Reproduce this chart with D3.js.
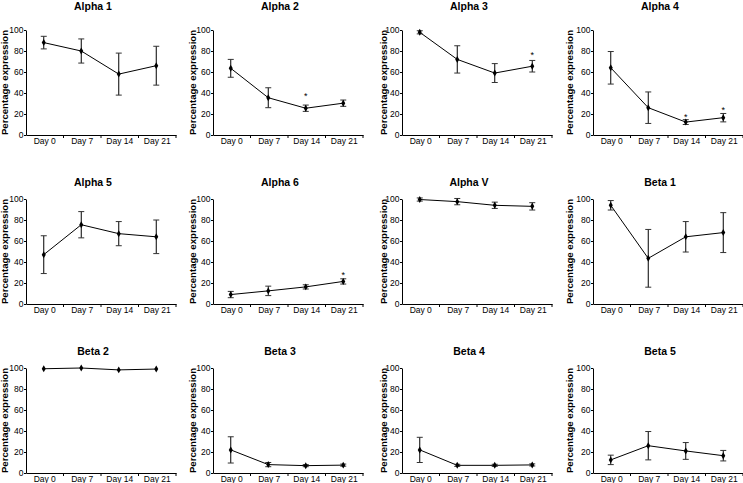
<!DOCTYPE html>
<html>
<head>
<meta charset="utf-8">
<script src="https://cdn.jsdelivr.net/npm/d3@7"></script>
<style>
  html, body { margin: 0; padding: 0; background: #fff; }
  svg { display: block; font-family: "Liberation Sans", Arial, sans-serif; }
</style>
</head>
<body>
<svg id="chart" width="743" height="483"></svg>
<script>
// ---------------- data ----------------
const days = ["Day 0", "Day 7", "Day 14", "Day 21"];
const titles = ["Alpha 1", "Alpha 2", "Alpha 3", "Alpha 4",
                "Alpha 5", "Alpha 6", "Alpha V", "Beta 1",
                "Beta 2", "Beta 3", "Beta 4", "Beta 5"];
const yTicks = [0, 20, 40, 60, 80, 100];
const yLabel = "Percentage expression";

const means = [
  [88, 80, 58, 66],      // Alpha 1
  [63.5, 35.5, 25.5, 30.3], // Alpha 2
  [97.8, 72, 59, 65.5],  // Alpha 3
  [64, 26, 12.3, 16.5],  // Alpha 4
  [47, 75.5, 67, 64],    // Alpha 5
  [9, 12.5, 16.3, 21.5], // Alpha 6
  [99.5, 97.5, 94, 93],  // Alpha V
  [94, 43.5, 64, 68],    // Beta 1
  [99.3, 100, 98.2, 99], // Beta 2
  [22, 8, 7, 7.5],       // Beta 3
  [22, 7.3, 7.3, 7.7],   // Beta 4
  [12.5, 26, 21, 16.5]   // Beta 5
];
const errors = [
  [6, 11.5, 20, 18.5],
  [8.5, 9.5, 3, 3],
  [1.5, 13, 9, 5.5],
  [15.5, 15, 2.3, 4],
  [18, 12.5, 11.5, 16],
  [3, 4.5, 2, 2.5],
  [1.5, 3, 3, 3.5],
  [4.5, 27.5, 14.5, 19],
  [0, 0, 0, 0],
  [12.5, 2, 1, 1],
  [12, 1, 1, 1],
  [4.5, 13.5, 8, 5]
];
// y value at which a significance asterisk is drawn (null = none)
const stars = [
  [null, null, null, null],
  [null, null, 39, null],
  [null, null, null, 78],
  [null, null, 19, 26],
  [null, null, null, null],
  [null, null, null, 30],
  [null, null, null, null],
  [null, null, null, null],
  [null, null, null, null],
  [null, null, null, null],
  [null, null, null, null],
  [null, null, null, null]
];

// ---------------- layout ----------------
const colLeft = [26, 213, 402, 593];
const rowTop = [30, 199, 368];
const titleY = [10, 186, 355];
const yLabelBase = [8.2, 196, 386.5, 573];
const plotW = 150, plotH = 105;
const tickFont = "8.5px";

const svg = d3.select("#chart");

titles.forEach((title, i) => {
  const c = i % 4, r = Math.floor(i / 4);
  const left = colLeft[c], top = rowTop[r];
  const x = d3.scaleBand().domain(days).range([left, left + plotW]);
  const y = d3.scaleLinear().domain([0, 100]).range([top + plotH, top]);
  const g = svg.append("g");

  // title
  g.append("text")
    .attr("x", left + plotW / 2 - 8)
    .attr("y", titleY[r])
    .attr("text-anchor", "middle")
    .attr("font-size", "10.5px")
    .attr("font-weight", "bold")
    .text(title);

  // y label
  g.append("text")
    .attr("transform", `translate(${yLabelBase[c]},${top + plotH / 2}) rotate(-90)`)
    .attr("text-anchor", "middle")
    .attr("font-size", "9.6px")
    .attr("font-weight", "bold")
    .text(yLabel);

  // y axis
  const ya = g.append("g")
    .attr("transform", `translate(${left},0)`)
    .call(d3.axisLeft(y).tickValues(yTicks).tickSize(2).tickSizeOuter(0).tickPadding(0.5));
  ya.selectAll("text").attr("font-size", tickFont).attr("fill", "#000").attr("font-family", "Liberation Sans, Arial, sans-serif");
  ya.selectAll("line, path").attr("stroke", "#000");

  // x axis
  const xa = g.append("g")
    .attr("transform", `translate(0,${top + plotH})`)
    .call(d3.axisBottom(x).tickSize(0).tickSizeOuter(0).tickPadding(3));
  xa.selectAll("text").attr("font-size", tickFont).attr("fill", "#000").attr("font-family", "Liberation Sans, Arial, sans-serif");
  xa.selectAll("path").attr("stroke", "#000");
  // boundary ticks
  xa.selectAll(".btick").data(days).enter().append("line")
    .attr("class", "btick")
    .attr("x1", d => x(d) + x.bandwidth())
    .attr("x2", d => x(d) + x.bandwidth())
    .attr("y1", 0).attr("y2", 3)
    .attr("stroke", "#000");

  const pts = days.map((d, j) => ({ d, m: means[i][j], e: errors[i][j], s: stars[i][j] }));
  const cx = d => x(d) + x.bandwidth() / 2 - 1;

  // connecting line
  g.append("path")
    .datum(pts)
    .attr("fill", "none")
    .attr("stroke", "#000")
    .attr("stroke-width", 1)
    .attr("d", d3.line().x(p => cx(p.d)).y(p => y(p.m)));

  // error bars
  const eb = g.selectAll(".eb").data(pts.filter(p => p.e > 0)).enter().append("g");
  eb.append("line")
    .attr("x1", p => cx(p.d)).attr("x2", p => cx(p.d))
    .attr("y1", p => y(p.m - p.e)).attr("y2", p => y(p.m + p.e))
    .attr("stroke", "#000").attr("stroke-width", 1);
  [1, -1].forEach(sgn => {
    eb.append("line")
      .attr("x1", p => cx(p.d) - 3).attr("x2", p => cx(p.d) + 3)
      .attr("y1", p => y(p.m + sgn * p.e)).attr("y2", p => y(p.m + sgn * p.e))
      .attr("stroke", "#333").attr("stroke-width", 1);
  });

  // markers
  g.selectAll(".mk").data(pts).enter().append("path")
    .attr("transform", p => `translate(${cx(p.d)},${y(p.m)})`)
    .attr("d", d3.symbol(d3.symbolDiamond, 14))
    .attr("fill", "#000");

  // stars
  g.selectAll(".st").data(pts.filter(p => p.s !== null)).enter().append("text")
    .attr("x", p => cx(p.d))
    .attr("y", p => y(p.s) + 5)
    .attr("text-anchor", "middle")
    .attr("font-size", "9px")
    .text("*");
});
</script>
</body>
</html>
